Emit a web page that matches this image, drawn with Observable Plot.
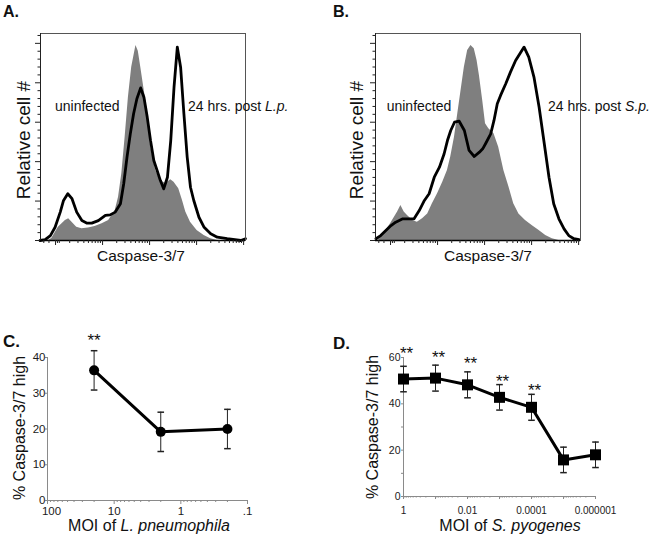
<!DOCTYPE html>
<html><head><meta charset="utf-8">
<script src="https://cdn.jsdelivr.net/npm/d3@7"></script>
<script src="https://cdn.jsdelivr.net/npm/@observablehq/plot@0.6"></script>
<style>
body{margin:0;background:#fff;}
#fig{position:relative;width:654px;height:537px;overflow:hidden;font-family:"Liberation Sans",Arial,Helvetica,sans-serif;color:#111;background:#fff;}
.panel{position:absolute;top:0;left:0;}
.lbl{position:absolute;white-space:nowrap;line-height:1;}
</style></head><body><div id="fig"></div>
<script>
// ---------- DATA ----------
// Histograms: [log10 fluorescence (decades), relative cell count]
const aUninfected = [[-0.15,0],[-0.08,1.0],[0.06,6.7],[0.21,10.1],[0.28,11.0],[0.35,9.3],[0.45,6.7],[0.56,5.9],[0.70,6.4],[0.84,7.1],[0.99,8.5],[1.13,10.1],[1.27,15.2],[1.34,22.0],[1.41,34.0],[1.48,52.4],[1.55,72.7],[1.62,87.9],[1.71,98.9],[1.76,96.0],[1.81,88.3],[1.88,77.1],[1.95,66.0],[2.02,48.2],[2.13,35.5],[2.23,30.4],[2.34,28.9],[2.45,30.8],[2.52,29.6],[2.62,26.2],[2.70,20.3],[2.77,14.4],[2.87,9.3],[3.01,5.1],[3.16,2.5],[3.30,0.9],[3.44,0]];
const aInfected = [[-0.33,0],[-0.22,0.4],[-0.11,2.5],[-0.01,6.7],[0.10,14.4],[0.17,20.3],[0.26,23.7],[0.35,21.2],[0.45,14.4],[0.56,10.1],[0.67,8.8],[0.77,8.8],[0.91,10.1],[1.06,12.7],[1.16,13.0],[1.27,14.4],[1.38,18.6],[1.45,28.8],[1.52,42.3],[1.59,54.1],[1.66,64.3],[1.73,71.9],[1.81,77.4],[1.88,72.7],[1.95,62.6],[2.02,50.7],[2.09,40.6],[2.16,35.5],[2.23,30.4],[2.30,26.2],[2.38,32.1],[2.45,50.7],[2.52,77.8],[2.59,98.1],[2.66,87.9],[2.73,64.3],[2.80,42.3],[2.87,27.0],[2.94,20.3],[3.05,11.8],[3.16,6.7],[3.30,3.4],[3.44,1.7],[3.65,0.9],[3.94,0],[4.04,0.9]];
const bUninfected = [[-0.26,0],[-0.17,2.5],[0.00,8.5],[0.15,14.4],[0.22,17.8],[0.29,14.4],[0.36,12.7],[0.47,10.1],[0.57,9.3],[0.68,11.0],[0.79,13.5],[0.89,18.6],[1.00,23.7],[1.11,29.6],[1.21,35.5],[1.28,42.3],[1.36,52.4],[1.43,64.3],[1.50,76.1],[1.57,87.9],[1.64,96.4],[1.71,98.9],[1.78,97.3],[1.84,91.3],[1.89,83.7],[1.96,71.0],[2.02,59.2],[2.09,56.7],[2.20,54.1],[2.30,47.3],[2.41,35.5],[2.52,27.0],[2.62,18.6],[2.73,13.5],[2.87,10.1],[3.01,7.6],[3.16,5.1],[3.30,2.5],[3.44,0.9],[3.58,0]];
const bInfected = [[-0.31,0.9],[-0.21,2.5],[-0.10,5.1],[0.01,7.6],[0.11,9.3],[0.26,11.0],[0.40,11.0],[0.50,11.0],[0.61,15.2],[0.72,20.3],[0.82,23.7],[0.93,32.1],[1.04,37.2],[1.14,44.0],[1.21,50.7],[1.28,55.8],[1.36,60.0],[1.46,60.5],[1.57,55.8],[1.67,45.7],[1.78,42.6],[1.89,44.8],[1.96,46.5],[2.02,49.1],[2.13,54.1],[2.20,60.9],[2.27,69.4],[2.34,73.6],[2.45,79.5],[2.55,85.4],[2.66,91.3],[2.77,95.5],[2.84,98.1],[2.94,93.0],[3.05,82.9],[3.16,67.6],[3.26,50.7],[3.37,32.1],[3.47,18.6],[3.58,11.0],[3.69,5.9],[3.79,2.5],[3.90,0.9],[4.01,0.4]];

// Panel C: MOI of L. pneumophila
const moiC = [20, 2, 0.2];
const pctC = [36.4, 19.2, 20.0];
const errC = [5.5, 5.5, 5.5];
const starC = [44.7];               // "**" height (in % units)
const cXTicks = [100, 10, 1, 0.1];
const cXLabels = ["100", "10", "1", ".1"];
const cYTicks = [0, 10, 20, 30, 40];

// Panel D: MOI of S. pyogenes
const moiD = [1, 0.1, 0.01, 0.001, 0.0001, 0.00001, 0.000001];
const pctD = [50.7, 51.1, 48.2, 42.8, 38.5, 15.8, 18.0];
const errD = [5.5, 5.6, 5.6, 5.5, 5.6, 5.5, 5.5];
const starD = [62.5, 60.6, 58.0, 50.5, 46.6];   // "**" heights for first five MOIs
const dXLabelTicks = [1, 0.01, 0.0001, 0.000001];
const dXLabels = ["1", "0.01", "0.0001", "0.000001"];
const dYTicks = [0, 20, 40, 60];
const dYMinor = [10, 30, 50];

// ---------- HELPERS ----------
const fig = document.getElementById("fig");
const FONT = "Liberation Sans, Arial, Helvetica, sans-serif";
const AX = "#8a8a8a";

function place(svg, left, top) {
  const wrap = document.createElement("div");
  wrap.className = "panel";
  wrap.style.left = left + "px"; wrap.style.top = top + "px";
  wrap.appendChild(svg);
  fig.appendChild(wrap);
}
function label(html, x, y, {size = 14, weight = "normal", anchor = "start", rotate = false} = {}) {
  const el = document.createElement("div");
  el.className = "lbl";
  el.innerHTML = html;
  el.style.fontSize = size + "px";
  el.style.fontWeight = weight;
  el.style.left = x + "px"; el.style.top = y + "px";
  const tx = anchor === "middle" ? "-50%" : anchor === "end" ? "-100%" : "0";
  el.style.transform = rotate ? "translate(-50%,-50%) rotate(-90deg)" : `translate(${tx},-50%)`;
  fig.appendChild(el);
}
const logMinor = (lo, hi) => {
  const out = [];
  for (let e = lo; e < hi; e++) for (let k = 2; k <= 9; k++) out.push(k * Math.pow(10, e));
  return out;
};
const capSymbol = {draw(ctx) { ctx.moveTo(-3.3, 0); ctx.lineTo(3.3, 0); }};

// ---------- HISTOGRAM PANELS (A, B) ----------
const hXMajor = [0, 1, 2, 3, 4];
const hXMinor = [-0.25, -0.14, 0.04, 0.08].concat(logMinor(0, 4).map(Math.log10));
const hYMajor = [0, 20, 40, 60, 80, 100];
const hYMinor = d3.range(0, 105, 4).filter(v => v % 20 !== 0);

function histPanel(gray, black, w) {
  return Plot.plot({
    width: w, height: 270,
    marginLeft: 40, marginTop: 33, marginBottom: 30, marginRight: w - 245,
    x: {domain: [-0.32, 4.04], axis: null},
    y: {domain: [0, 105], axis: null},
    style: {background: "transparent", overflow: "visible", fontFamily: FONT},
    marks: [
      Plot.areaY(gray, {x: d => d[0], y: d => d[1], fill: "#7f7f7f"}),
      Plot.lineY(black, {x: d => d[0], y: d => d[1], stroke: "#000", strokeWidth: 2.8, strokeLinejoin: "round"}),
      Plot.frame({stroke: "#555"}),
      Plot.ruleY([0], {stroke: "#000", strokeWidth: 1.3}),
      Plot.ruleX([-0.32], {stroke: "#222"}),
      Plot.axisY(hYMajor, {tickSize: 5, fill: "none", stroke: "#222", label: null}),
      Plot.axisY(hYMinor, {tickSize: 2.5, fill: "none", stroke: "#222", label: null}),
      Plot.axisX(hXMajor, {tickSize: 5, fill: "none", stroke: "#222", label: null}),
      Plot.axisX(hXMinor, {tickSize: 3, fill: "none", stroke: "#222", label: null})
    ]
  });
}
place(histPanel(aUninfected, aInfected, 327), 0, 0);
place(histPanel(bUninfected, bInfected, 319), 335, 0);

// ---------- PANEL C ----------
const cData = moiC.map((m, i) => ({moi: m, pct: pctC[i], err: errC[i]}));
const cLab = new Map(cXTicks.map((t, i) => [t, cXLabels[i]]));
place(Plot.plot({
  width: 327, height: 247,
  marginLeft: 47, marginRight: 80, marginTop: 67, marginBottom: 37,
  x: {type: "log", domain: [100, 0.1], axis: null},
  y: {domain: [0, 40], axis: null},
  style: {background: "transparent", overflow: "visible", fontFamily: FONT, fontSize: "11.5px", color: "#1a1a1a"},
  marks: [
    Plot.ruleX([100], {y1: 0, y2: 40, stroke: AX}),
    Plot.ruleY([0], {stroke: AX}),
    Plot.axisY(cYTicks, {tickSize: 2, tickPadding: 0, stroke: AX, fill: "#1a1a1a", fontSize: 11.5, label: null}),
    Plot.axisX(cXTicks, {tickSize: 4, stroke: AX, fill: "none", label: null}),
    Plot.axisX(cXTicks.slice(0, 1), {tickSize: 4, tickPadding: 2, stroke: "none", dx: 4, fill: "#1a1a1a", fontSize: 11.5, tickFormat: d => cLab.get(d), label: null}),
    Plot.axisX(cXTicks.slice(1), {tickSize: 4, tickPadding: 2, stroke: "none", fill: "#1a1a1a", fontSize: 11.5, tickFormat: d => cLab.get(d), label: null}),
    Plot.axisX(logMinor(-1, 2), {tickSize: 2, stroke: AX, fill: "none", label: null}),
    Plot.ruleX(cData, {x: "moi", y1: d => d.pct - d.err, y2: d => d.pct + d.err, stroke: "#222"}),
    Plot.dot(cData, {x: "moi", y: d => d.pct - d.err, symbol: capSymbol, stroke: "#222", fill: "none"}),
    Plot.dot(cData, {x: "moi", y: d => d.pct + d.err, symbol: capSymbol, stroke: "#222", fill: "none"}),
    Plot.line(cData, {x: "moi", y: "pct", stroke: "#000", strokeWidth: 3}),
    Plot.dot(cData, {x: "moi", y: "pct", r: 5, fill: "#000"}),
    Plot.text(starC, {x: (d, i) => moiC[i], y: d => d, text: () => "**", fontSize: 17, lineAnchor: "bottom", dy: 5.5, fill: "#111"})
  ]
}), 0, 290);

// ---------- PANEL D ----------
const dData = moiD.map((m, i) => ({moi: m, pct: pctD[i], err: errD[i]}));
const dLab = new Map(dXLabelTicks.map((t, i) => [t, dXLabels[i]]));
place(Plot.plot({
  width: 324, height: 247,
  marginLeft: 73, marginRight: 59, marginTop: 67, marginBottom: 41,
  x: {type: "log", domain: [1, 0.000001], axis: null},
  y: {domain: [0, 60], axis: null},
  style: {background: "transparent", overflow: "visible", fontFamily: FONT, fontSize: "10.5px", color: "#1a1a1a"},
  marks: [
    Plot.ruleX([1], {y1: 0, y2: 60, stroke: AX}),
    Plot.ruleY([0], {stroke: AX}),
    Plot.axisY(dYTicks, {tickSize: 2, tickPadding: 1, stroke: AX, fill: "#1a1a1a", fontSize: 10.5, label: null}),
    Plot.axisY(dYMinor, {tickSize: 2, stroke: AX, fill: "none", label: null}),
    Plot.axisX(moiD, {tickSize: 3, stroke: AX, fill: "none", label: null}),
    Plot.axisX(dXLabelTicks, {tickSize: 3, tickPadding: 7, stroke: "none", fill: "#1a1a1a", fontSize: 10, tickFormat: d => dLab.get(d), label: null}),
    Plot.axisX(logMinor(-6, 0), {tickSize: 1.5, stroke: AX, fill: "none", label: null}),
    Plot.ruleX(dData, {x: "moi", y1: d => d.pct - d.err, y2: d => d.pct + d.err, stroke: "#222"}),
    Plot.dot(dData, {x: "moi", y: d => d.pct - d.err, symbol: capSymbol, stroke: "#222", fill: "none"}),
    Plot.dot(dData, {x: "moi", y: d => d.pct + d.err, symbol: capSymbol, stroke: "#222", fill: "none"}),
    Plot.line(dData, {x: "moi", y: "pct", stroke: "#000", strokeWidth: 3}),
    Plot.dot(dData, {x: "moi", y: "pct", r: 6.2, symbol: "square", fill: "#000"}),
    Plot.text(starD, {x: (d, i) => moiD[i], y: d => d, text: () => "**", fontSize: 17, lineAnchor: "bottom", dy: 7, dx: 3, fill: "#111"})
  ]
}), 330, 290);

// ---------- TEXT ----------
label("A.", 3, 11.7, {size: 16, weight: "bold"});
label("B.", 333, 11.7, {size: 16, weight: "bold"});
label("C.", 3, 341, {size: 17, weight: "bold"});
label("D.", 333, 342.5, {size: 17, weight: "bold"});

label("Relative cell #", 22.5, 140, {size: 19, rotate: true});
label("Relative cell #", 355.5, 140, {size: 19, rotate: true});
label("Caspase-3/7", 141, 256.2, {size: 15.5, anchor: "middle"});
label("Caspase-3/7", 488, 256.2, {size: 15.5, anchor: "middle"});
label("uninfected", 55, 105.7, {size: 14});
label("24 hrs. post <i>L.p.</i>", 188, 105.7, {size: 14});
label("uninfected", 386.7, 105.7, {size: 14});
label("24 hrs. post <i>S.p.</i>", 548, 105.7, {size: 14});

label("% Caspase-3/7 high", 19.5, 428.3, {size: 16, rotate: true});
label("% Caspase-3/7 high", 372.5, 426.5, {size: 16, rotate: true});
label("MOI of <i>L. pneumophila</i>", 149, 525.8, {size: 16, anchor: "middle"});
label("MOI of <i>S. pyogenes</i>", 510, 525.8, {size: 16, anchor: "middle"});
</script></body></html>
